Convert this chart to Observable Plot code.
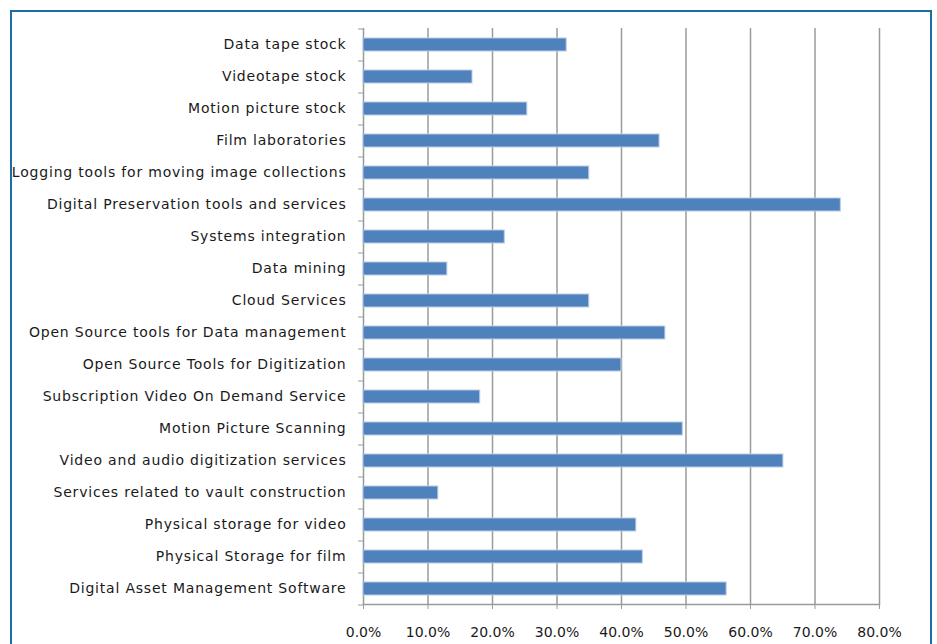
<!DOCTYPE html>
<html><head><meta charset="utf-8">
<script src="https://cdn.jsdelivr.net/npm/d3@7"></script>
<script src="https://cdn.jsdelivr.net/npm/@observablehq/plot@0.6"></script>
<style>
body{margin:0;background:#fff;overflow:hidden}
#wrap{position:relative;width:937px;height:644px}
#frame{position:absolute;left:10px;top:10px;width:922px;height:700px;border:2px solid #1a6fa8;box-sizing:border-box;pointer-events:none}
#chart{position:absolute;left:0;top:0}
.ylab text{letter-spacing:0.8px}
</style></head><body><div id="wrap"><div id="chart"></div><div id="frame"></div></div>
<script>
const categories = [
  "Data tape stock",
  "Videotape stock",
  "Motion picture stock",
  "Film laboratories",
  "Logging tools for moving image collections",
  "Digital Preservation tools and services",
  "Systems integration",
  "Data mining",
  "Cloud Services",
  "Open Source tools for Data management",
  "Open Source Tools for Digitization",
  "Subscription Video On Demand Service",
  "Motion Picture Scanning",
  "Video and audio digitization services",
  "Services related to vault construction",
  "Physical storage for video",
  "Physical Storage for film",
  "Digital Asset Management Software"
];
const values = [31.5, 16.9, 25.4, 45.9, 35.0, 74.0, 21.9, 13.0, 35.0, 46.8, 40.0, 18.1, 49.5, 65.1, 11.6, 42.3, 43.3, 56.3];
const xTicks = [0, 10, 20, 30, 40, 50, 60, 70, 80];

const data = categories.map((c, i) => ({category: c, value: values[i]}));

const plot = Plot.plot({
  width: 937, height: 644,
  marginLeft: 363, marginRight: 58, marginTop: 28, marginBottom: 40,
  style: {fontFamily: "'DejaVu Sans', sans-serif", fontSize: "14px", color: "#1a1a1a", background: "transparent"},
  x: {domain: [0, 80], ticks: xTicks},
  y: {domain: categories, paddingInner: 0.6, paddingOuter: 0.3},
  marks: [
    Plot.gridX(xTicks, {stroke: "#9a9a9a", strokeOpacity: 1, strokeWidth: 1.5}),
    Plot.frame({anchor: "bottom", stroke: "#9a9a9a", strokeWidth: 1.5}),
    Plot.barX(data, {x: "value", y: "category", fill: "#4f81bd", stroke: "#b8cce4", strokeWidth: 1}),
    Plot.axisX(xTicks, {tickSize: 5, tickPadding: 18, tickFormat: d => d.toFixed(1) + "%", stroke: "#9a9a9a", label: null}),
    Plot.axisY({tickSize: 0, tickPadding: 17, label: null, className: "ylab"}),
    Plot.axisY({tickSize: 5, tickFormat: () => "", dy: -16, stroke: "#9a9a9a", label: null}),
    Plot.axisY([categories[categories.length - 1]], {tickSize: 5, tickFormat: () => "", dy: 16, stroke: "#9a9a9a", label: null})
  ]
});
document.getElementById("chart").appendChild(plot);
</script>
</body></html>
